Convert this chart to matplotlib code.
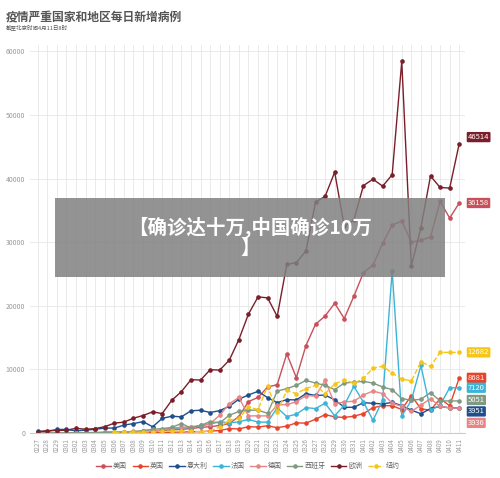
import matplotlib
matplotlib.use("Agg")
import matplotlib.pyplot as plt

plt.rcParams['font.family'] = ['Noto Sans CJK SC', 'DejaVu Sans']

dates = ["0227","0228","0229"] + ["03%02d" % d for d in range(1, 32)] + ["04%02d" % d for d in range(1, 12)]

europe = [200,400,400,450,750,600,700,1000,1560,1720,2340,2760,3330,3070,5160,6510,8390,8330,9950,9900,11460,14700,18700,21400,21250,18330,
          26500,26800,28600,36300,37200,41000,32500,33500,38900,39900,38800,40600,58400,26250,32300,40400,38600,38500,45500]
usa = [10,5,10,20,30,30,40,60,80,100,120,150,300,400,500,600,700,900,1000,1200,1500,2600,4950,5600,7240,7600,
       12450,8700,13750,17100,18400,20400,18000,21500,25200,26400,29800,32700,33300,30000,30300,30800,36400,33800,36158]
uk = [5,5,3,10,10,10,20,30,40,50,60,50,70,80,130,160,200,230,300,400,700,650,1000,940,1150,840,
      1100,1600,1560,2170,2900,2550,2450,2650,3060,3990,4300,4300,3700,5900,3800,3600,5400,4300,8681]
italy = [250,240,570,570,340,470,590,780,780,1250,1490,1800,980,2310,2650,2550,3500,3590,3230,3530,4210,5320,5990,6560,5560,4790,
         5250,5210,6200,5910,5970,5220,4050,4050,4780,4670,4590,4810,4320,3600,3040,3840,4200,3951,3951]
france = [10,40,20,30,60,70,80,150,190,100,180,280,300,500,600,800,900,1100,1400,1800,1600,1770,2140,1720,
          1720,3960,2600,2960,4000,3850,4690,2710,4380,7340,4870,2000,5150,25500,2650,5150,10620,3590,4380,7120,7120]
germany = [20,30,30,50,50,60,70,100,200,200,250,300,270,500,800,900,1000,1200,1500,2800,4600,5600,2700,
           2700,2700,4400,4500,4900,5900,5800,8300,4600,4900,5000,6000,6600,6200,4700,4200,3400,4400,5400,4200,3936,3936]
spain = [5,10,20,30,30,40,60,70,100,120,200,400,600,700,900,1500,800,1200,1800,1600,2800,3400,3600,3600,
         3100,6600,6980,7500,8280,7860,7500,6830,7860,8000,8120,7860,7240,6830,5420,5160,5310,6350,5050,5051,5051]
ny = [None]*8 + [100,150,100,150,200,250,300,300,300,200,300,1000,2000,2300,4100,3700,
      7400,3300,6700,6200,7000,7500,6200,7700,8400,7800,8600,10200,10500,9400,8500,8200,11200,10500,12682]

def fit(v):
    v = list(v)[:len(dates)]
    return v + [v[-1]] * (len(dates) - len(v))

series = [
    ("美国", fit(usa), "#c9505a", "-"),
    ("英国", fit(uk), "#e8432b", "-"),
    ("意大利", fit(italy), "#1f4e8c", "-"),
    ("法国", fit(france), "#3cb4d8", "-"),
    ("德国", fit(germany), "#e88585", "-"),
    ("西班牙", fit(spain), "#7f9a80", "-"),
    ("欧洲", fit(europe), "#7a1f2a", "-"),
    ("纽约", fit(ny), "#f5c518", "--"),
]
endlabels = {"美国": "36158", "英国": "8681", "意大利": "3951", "法国": "7120",
             "德国": "3936", "西班牙": "5051", "欧洲": "46514", "纽约": "12682"}
label_y = {"欧洲": 46514, "美国": 36158, "纽约": 12682, "英国": 8681, "法国": 7120,
           "西班牙": 5200, "意大利": 3400, "德国": 1600}

fig = plt.figure(figsize=(5, 4.78), dpi=100)
ax = fig.add_axes([0.06, 0.094, 0.87, 0.812])
x = list(range(len(dates)))
for name, vals, col, ls in series:
    xs = [i for i, v in zip(x, vals) if v is not None]
    ys = [v for v in vals if v is not None]
    ax.plot(xs, ys, color=col, ls=ls, lw=1, marker='o', ms=2.3, label=name)
    ax.annotate(endlabels[name], xy=(len(dates) - 1 + 0.9, label_y[name]), xycoords='data',
                fontsize=5.5, color='white', va='center', ha='left', annotation_clip=False,
                bbox=dict(boxstyle='round,pad=0.15', fc=col, ec='none'))

ax.set_xlim(-0.8, len(dates) - 0.4)
ax.set_ylim(0, 61000)
ax.set_yticks(range(0, 60001, 10000))
ax.set_xticks(x)
ax.set_xticklabels(dates, rotation=90, fontsize=4.5, color='#999999')
ax.tick_params(axis='y', labelsize=5, colors='#999999', length=0)
ax.tick_params(axis='x', length=0)
ax.grid(True, color='#e6e6e6', lw=0.6)
for s in ['top', 'right', 'left']:
    ax.spines[s].set_visible(False)
ax.spines['bottom'].set_color('#cccccc')

fig.text(0.012, 0.978, "疫情严重国家和地区每日新增病例", fontsize=8.5, fontweight='bold', color='#555555', va='top')
fig.text(0.012, 0.948, "截至北京时间4月11日8时", fontsize=4, color='#555555', va='top')

ax.legend(loc='center', bbox_to_anchor=(0.5, -0.085), ncol=8, frameon=False,
          fontsize=5, handlelength=2.2, columnspacing=0.8, handletextpad=0.3, labelcolor='#666666')

fig.patches.append(plt.Rectangle((0.11, 0.42), 0.78, 0.165, transform=fig.transFigure,
                                 facecolor='#808080', alpha=0.85, edgecolor='none', zorder=10))
fig.text(0.5, 0.503, "【确诊达十万,中国确诊10万\n】", fontsize=14, fontweight='bold', color='white',
         ha='center', va='center', zorder=11, linespacing=1.1)

fig.savefig("out.png", dpi=100)
